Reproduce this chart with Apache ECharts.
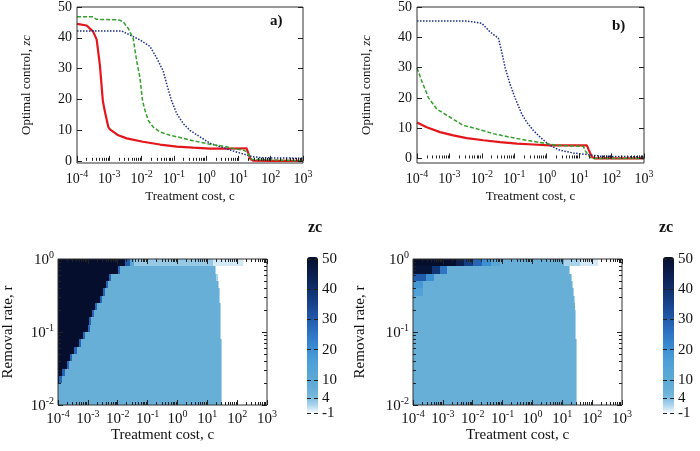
<!DOCTYPE html>
<html><head><meta charset="utf-8">
<script src="https://cdn.jsdelivr.net/npm/echarts@6/dist/echarts.min.js"></script>
<style>html,body{margin:0;padding:0;background:#fff}#c{width:700px;height:451px}</style>
</head><body><div id="c"></div>
<script>
// ---------- DATA (x values are log10 of treatment cost) ----------
const aRedLogC = [-4, -3.7, -3.5, -3.39, -3.29, -3.2, -3.13, -3.03, -2.98, -2.72, -2.46, -1.96, -1.43, -0.91, -0.4, 0.12, 0.7, 1.25, 1.3, 1.37, 1.45, 2, 3];
const aRedZc   = [44.5, 44, 42, 39.4, 31, 19.5, 15.7, 11, 10.2, 8.3, 7.3, 6.2, 5.3, 4.6, 4.3, 4.0, 4.0, 4.1, 4.1, 0.6, 0.1, 0, 0];
const aGreenLogC = [-4, -3.5, -3.4, -2.7, -2.57, -2.41, -2.26, -2.15, -2.05, -1.97, -1.89, -1.79, -1.64, -1.43, -1.12, -0.81, -0.4, 0.12, 0.63, 0.84, 1.15, 1.25, 1.35, 1.41, 1.45, 3];
const aGreenZc   = [46.8, 46.8, 46, 45.8, 45.2, 43, 39.8, 32.4, 27, 19.5, 16.3, 13.1, 11, 9.4, 8.3, 7.6, 6.5, 5.4, 4.6, 4.0, 3.5, 3.0, 1.5, 0.5, 0, 0];
const aBlueLogC = [-4, -2.62, -2.36, -2.05, -1.74, -1.53, -1.33, -1.22, -1.07, -0.91, -0.71, -0.5, -0.19, 0.12, 0.43, 0.84, 1.25, 1.41, 1.7, 3];
const aBlueZc   = [42.2, 42.2, 40.9, 39.3, 37.2, 33.4, 29.2, 24.9, 19.5, 15.3, 12.1, 9.9, 7.8, 5.7, 4.6, 3.2, 1.9, 1.4, 1.0, 0.85];

const bRedLogC = [-4, -3.7, -3.29, -2.88, -2.47, -1.95, -1.44, -0.92, -0.41, 0.1, 1.24, 1.29, 1.39, 1.5, 3];
const bRedZc   = [11.9, 10.3, 8.7, 7.6, 6.7, 6.0, 5.4, 4.9, 4.6, 4.3, 4.3, 3, 0.5, 0, 0];
const bGreenLogC = [-4, -3.85, -3.65, -3.39, -2.98, -2.57, -2.16, -1.65, -1.13, -0.61, -0.1, 0.31, 1.13, 1.19, 1.34, 1.45, 3];
const bGreenZc   = [29.9, 25.5, 20.1, 16.3, 13.6, 10.9, 9.8, 8.2, 7.0, 6.0, 5.1, 4.3, 4.0, 2.5, 0.3, 0, 0];
const bBlueLogC = [-4, -2.47, -2.0, -1.75, -1.49, -1.39, -1.28, -1.13, -0.98, -0.77, -0.61, -0.41, -0.2, 0.1, 0.41, 0.82, 1.24, 1.65, 3];
const bBlueZc   = [45.4, 45.4, 44.6, 41.8, 39.7, 35.3, 29.9, 24.5, 20.1, 14.7, 11.9, 9.2, 7.0, 4.3, 2.7, 1.8, 1.3, 0.75, 0.5];

// heatmap rows: log10 r edges (top to bottom)
const rowEdgesLogR = [0, -0.1, -0.2, -0.3, -0.4, -0.5, -0.6, -0.7, -0.8, -0.9, -1.0, -1.1, -1.2, -1.3, -1.4, -1.5, -1.6, -1.7, -1.8, -1.9, -2.0];
// per row: runs of [log10 c start, log10 c end, zc]
const heatC = [
  [[-4,-1.75,50],[-1.75,-1.6,30],[-1.6,-1.45,12],[-1.45,1.2,3],[1.2,2.2,0.5],[2.2,3,-1]],
  [[-4,-2.0,50],[-2.0,-1.93,28],[-1.93,1.25,7],[1.25,1.3,2],[1.3,3,-1]],
  [[-4,-2.3,50],[-2.3,-2.23,28],[-2.23,1.3,7],[1.3,1.35,2],[1.35,3,-1]],
  [[-4,-2.4,50],[-2.4,-2.33,28],[-2.33,1.35,7],[1.35,1.38,2],[1.38,3,-1]],
  [[-4,-2.5,50],[-2.5,-2.43,28],[-2.43,1.38,7],[1.38,1.41,2],[1.41,3,-1]],
  [[-4,-2.6,50],[-2.6,-2.53,28],[-2.53,1.4,7],[1.4,1.43,2],[1.43,3,-1]],
  [[-4,-2.75,50],[-2.75,-2.68,28],[-2.68,1.42,7],[1.42,1.45,2],[1.45,3,-1]],
  [[-4,-2.85,50],[-2.85,-2.78,28],[-2.78,1.43,7],[1.43,1.46,2],[1.46,3,-1]],
  [[-4,-2.95,50],[-2.95,-2.88,28],[-2.88,1.43,7],[1.43,1.46,2],[1.46,3,-1]],
  [[-4,-3.0,50],[-3.0,-2.93,28],[-2.93,1.44,7],[1.44,1.47,2],[1.47,3,-1]],
  [[-4,-3.15,50],[-3.15,-3.08,28],[-3.08,1.44,7],[1.44,1.47,2],[1.47,3,-1]],
  [[-4,-3.3,50],[-3.3,-3.23,28],[-3.23,1.45,7],[1.45,1.48,2],[1.48,3,-1]],
  [[-4,-3.45,50],[-3.45,-3.38,28],[-3.38,1.45,7],[1.45,1.48,2],[1.48,3,-1]],
  [[-4,-3.6,50],[-3.6,-3.53,28],[-3.53,1.45,7],[1.45,1.48,2],[1.48,3,-1]],
  [[-4,-3.7,50],[-3.7,-3.63,28],[-3.63,1.45,7],[1.45,1.48,2],[1.48,3,-1]],
  [[-4,-3.85,50],[-3.85,-3.78,28],[-3.78,1.45,7],[1.45,1.48,2],[1.48,3,-1]],
  [[-4,-3.95,50],[-3.95,-3.88,28],[-3.88,1.45,7],[1.45,1.48,2],[1.48,3,-1]],
  [[-4,1.45,7],[1.45,1.48,2],[1.48,3,-1]],
  [[-4,1.45,7],[1.45,1.48,2],[1.48,3,-1]],
  [[-4,1.45,7],[1.45,1.48,2],[1.48,3,-1]]
];
const heatD = [
  [[-4,-2.55,50],[-2.55,-2.3,44],[-2.3,-2.0,36],[-2.0,-1.7,28],[-1.7,-1.4,20],[-1.4,-1.1,12],[-1.1,1.05,7],[1.05,1.6,2],[1.6,2.2,0.5],[2.2,3,-1]],
  [[-4,-3.35,48],[-3.35,-3.1,38],[-3.1,-2.85,25],[-2.85,1.22,7],[1.22,1.26,2],[1.26,3,-1]],
  [[-4,-3.55,30],[-3.55,-3.3,20],[-3.3,1.28,7],[1.28,1.32,2],[1.32,3,-1]],
  [[-4,-3.65,18],[-3.65,1.32,7],[1.32,1.36,2],[1.36,3,-1]],
  [[-4,-3.65,15],[-3.65,1.36,7],[1.36,1.39,2],[1.39,3,-1]],
  [[-4,1.39,7],[1.39,1.42,2],[1.42,3,-1]],
  [[-4,1.41,7],[1.41,1.44,2],[1.44,3,-1]],
  [[-4,1.42,7],[1.42,1.45,2],[1.45,3,-1]],
  [[-4,1.43,7],[1.43,1.46,2],[1.46,3,-1]],
  [[-4,1.44,7],[1.44,1.47,2],[1.47,3,-1]],
  [[-4,1.44,7],[1.44,1.47,2],[1.47,3,-1]],
  [[-4,1.45,7],[1.45,1.48,2],[1.48,3,-1]],
  [[-4,1.45,7],[1.45,1.48,2],[1.48,3,-1]],
  [[-4,1.45,7],[1.45,1.48,2],[1.48,3,-1]],
  [[-4,1.45,7],[1.45,1.48,2],[1.48,3,-1]],
  [[-4,1.45,7],[1.45,1.48,2],[1.48,3,-1]],
  [[-4,1.45,7],[1.45,1.48,2],[1.48,3,-1]],
  [[-4,1.45,7],[1.45,1.48,2],[1.48,3,-1]],
  [[-4,1.45,7],[1.45,1.48,2],[1.48,3,-1]],
  [[-4,1.45,7],[1.45,1.48,2],[1.48,3,-1]]
];
const colorbarTicks = [-1, 4, 10, 20, 30, 40, 50];
const zcTicks = [0, 10, 20, 30, 40, 50];
const costExponents = [-4, -3, -2, -1, 0, 1, 2, 3];
const rateExponents = [-2, -1, 0];
const cmap = ['#ffffff','#a9d3ec','#74b6dc','#62acd6','#5aa8d6','#52a3d7','#4a9cd6','#3d8fd3','#3380cb','#2b6fbf','#2460b0','#1d509e','#17428a','#123576','#0e2a62','#0b2050','#08173e','#050e2c'];

// ---------- BUILD ----------
const FONT = 'Liberation Serif';
const P = v => Math.pow(10, v);
const pairs = (xs, ys) => xs.map((x, i) => [P(x), ys[i]]);
function heatData(rows) {
  const out = [];
  rows.forEach((runs, i) => {
    runs.forEach(r => out.push([P(r[0]), P(r[1]), P(rowEdgesLogR[i + 1]), P(rowEdgesLogR[i]), r[2]]));
  });
  return out;
}
function minorVals(e0, e1) {
  const v = [];
  for (let e = e0; e < e1; e++) for (let k = 2; k <= 9; k++) v.push(k * P(e));
  return v;
}
const supFmt = v => { const e = Math.round(Math.log10(v)); return '{b|10}{s|' + e + '}'; };
function supRich(bs, ss) {
  return { b: { fontFamily: FONT, fontSize: bs, lineHeight: bs + 3, verticalAlign: 'bottom', color: '#111' },
           s: { fontFamily: FONT, fontSize: ss, lineHeight: ss, verticalAlign: 'top', color: '#111' } };
}
const nameRich = fs => ({ i: { fontFamily: FONT, fontSize: fs, fontStyle: 'italic', color: '#111' } });
function logAxis(grid, min, max, pos, opt) {
  opt = opt || {};
  const ax = {
    type: 'log', logBase: 10, gridIndex: grid, min: min, max: max, position: pos, z: 10,
    axisLine: { show: false }, splitLine: { show: false },
    axisTick: { show: true, inside: true, length: opt.minor ? 3 : 5, lineStyle: { color: '#222', width: 1 },
                customValues: opt.values },
    axisLabel: { show: !!opt.labels, customValues: opt.values, formatter: supFmt, rich: supRich(opt.bs || 14, opt.ss || 10), margin: opt.margin || 6 }
  };
  if (opt.name) Object.assign(ax, { name: opt.name, nameLocation: 'middle', nameGap: opt.nameGap,
      nameTextStyle: { fontFamily: FONT, fontSize: opt.nameSize || 13, color: '#111' } });
  return ax;
}
function valAxis(grid, min, max, pos, opt) {
  opt = opt || {};
  const ax = {
    type: 'value', gridIndex: grid, min: min, max: max, position: pos, z: 10,
    axisLine: { show: false }, splitLine: { show: false },
    axisTick: { show: !!opt.ticks, inside: true, length: opt.tickLen || 5, lineStyle: { color: '#222' }, customValues: opt.values },
    axisLabel: { show: !!opt.labels, customValues: opt.values, fontFamily: FONT, fontSize: opt.fs || 14, color: '#111', margin: opt.margin || 5 }
  };
  if (opt.name) Object.assign(ax, { name: opt.name, nameLocation: 'middle', nameGap: opt.nameGap,
      nameTextStyle: { fontFamily: FONT, fontSize: 13, color: '#111', rich: nameRich(13) } });
  return ax;
}
const majC = costExponents.map(P), minC = minorVals(-4, 3);
const majR = rateExponents.map(P), minR = minorVals(-2, 0);

const frame = { show: true, borderColor: '#333', borderWidth: 1, backgroundColor: 'transparent', z: 8 };
const grids = [
  Object.assign({ left: 77, top: 5, width: 226, height: 158 }, frame),
  Object.assign({ left: 417, top: 5, width: 227, height: 158 }, frame),
  Object.assign({ left: 57, top: 259, width: 210, height: 146 }, frame),
  Object.assign({ left: 413, top: 259, width: 209, height: 146 }, frame),
  { left: 307, top: 259, width: 11, height: 154 },
  { left: 663, top: 259, width: 11, height: 154 }
];
const xAxes = [
  logAxis(0, 1e-4, 1e3, 'bottom', { values: majC, labels: true, name: 'Treatment cost, c', nameGap: 27, nameSize: 13 }),
  logAxis(0, 1e-4, 1e3, 'bottom', { values: minC, minor: true }),
  logAxis(1, 1e-4, 1e3, 'bottom', { values: majC, labels: true, name: 'Treatment cost, c', nameGap: 27, nameSize: 13 }),
  logAxis(1, 1e-4, 1e3, 'bottom', { values: minC, minor: true }),
  logAxis(2, 1e-4, 1e3, 'bottom', { values: majC, labels: true, name: 'Treatment cost, c', nameGap: 23, nameSize: 15, bs: 15, ss: 10, margin: 4 }),
  logAxis(2, 1e-4, 1e3, 'bottom', { values: minC, minor: true }),
  logAxis(2, 1e-4, 1e3, 'top', { values: majC }),
  logAxis(2, 1e-4, 1e3, 'top', { values: minC, minor: true }),
  logAxis(3, 1e-4, 1e3, 'bottom', { values: majC, labels: true, name: 'Treatment cost, c', nameGap: 23, nameSize: 15, bs: 15, ss: 10, margin: 4 }),
  logAxis(3, 1e-4, 1e3, 'bottom', { values: minC, minor: true }),
  logAxis(3, 1e-4, 1e3, 'top', { values: majC }),
  logAxis(3, 1e-4, 1e3, 'top', { values: minC, minor: true }),
  { type: 'value', gridIndex: 4, show: false, min: 0, max: 1 },
  { type: 'value', gridIndex: 5, show: false, min: 0, max: 1 }
];
const yAxes = [
  valAxis(0, -0.7, 50, 'left', { values: zcTicks, ticks: true, labels: true, name: 'Optimal control, {i|zc}', nameGap: 44 }),
  valAxis(0, -0.7, 50, 'right', { values: zcTicks, ticks: true }),
  valAxis(1, -1.5, 50, 'left', { values: zcTicks, ticks: true, labels: true, name: 'Optimal control, {i|zc}', nameGap: 44 }),
  valAxis(1, -1.5, 50, 'right', { values: zcTicks, ticks: true }),
  logAxis(2, 1e-2, 1, 'left', { values: majR, labels: true, name: 'Removal rate, r', nameGap: 42, nameSize: 15, bs: 15, ss: 10, margin: 4 }),
  logAxis(2, 1e-2, 1, 'left', { values: minR, minor: true }),
  logAxis(2, 1e-2, 1, 'right', { values: majR }),
  logAxis(2, 1e-2, 1, 'right', { values: minR, minor: true }),
  logAxis(3, 1e-2, 1, 'left', { values: majR, labels: true, name: 'Removal rate, r', nameGap: 45, nameSize: 15, bs: 15, ss: 10, margin: 4 }),
  logAxis(3, 1e-2, 1, 'left', { values: minR, minor: true }),
  logAxis(3, 1e-2, 1, 'right', { values: majR }),
  logAxis(3, 1e-2, 1, 'right', { values: minR, minor: true }),
  valAxis(4, -1, 50, 'left', { values: colorbarTicks, ticks: true, tickLen: 4 }),
  valAxis(4, -1, 50, 'right', { values: colorbarTicks, ticks: true, tickLen: 4, labels: true, fs: 15, margin: 4 }),
  valAxis(5, -1, 50, 'left', { values: colorbarTicks, ticks: true, tickLen: 4 }),
  valAxis(5, -1, 50, 'right', { values: colorbarTicks, ticks: true, tickLen: 4, labels: true, fs: 15, margin: 4 })
];
function line(xi, yi, data, color, width, type) {
  return { type: 'line', xAxisIndex: xi, yAxisIndex: yi, data: data, showSymbol: false, symbol: 'none', silent: true,
           lineStyle: { color: color, width: width, type: type }, z: type === 'solid' ? 3 : 4, animation: false };
}
function heatSeries(xi, yi, rows) {
  return {
    type: 'custom', xAxisIndex: xi, yAxisIndex: yi, data: heatData(rows), clip: true, silent: true, animation: false,
    encode: { x: [0, 1], y: [2, 3] },
    renderItem: function (params, api) {
      const p0 = api.coord([api.value(0), api.value(2)]);
      const p1 = api.coord([api.value(1), api.value(3)]);
      const x0 = Math.round(Math.min(p0[0], p1[0])), x1 = Math.round(Math.max(p0[0], p1[0]));
      const y0 = Math.round(Math.min(p0[1], p1[1])), y1 = Math.round(Math.max(p0[1], p1[1]));
      return { type: 'rect', shape: { x: x0, y: y0, width: x1 - x0, height: y1 - y0 },
               style: { fill: api.visual('color') } };
    }
  };
}
const RED = '#e3161c', GREEN = '#33a02c', BLUE = '#1a2c8c';
const series = [
  line(0, 0, pairs(aBlueLogC, aBlueZc), BLUE, 1.5, [1.5, 1.5]),
  line(0, 0, pairs(aGreenLogC, aGreenZc), GREEN, 1.5, [4, 2]),
  line(0, 0, pairs(aRedLogC, aRedZc), RED, 2.2, 'solid'),
  line(2, 2, pairs(bBlueLogC, bBlueZc), BLUE, 1.5, [1.5, 1.5]),
  line(2, 2, pairs(bGreenLogC, bGreenZc), GREEN, 1.5, [4, 2]),
  line(2, 2, pairs(bRedLogC, bRedZc), RED, 2.2, 'solid'),
  heatSeries(4, 4, heatC),
  heatSeries(8, 8, heatD)
];
function vmap(idx, left) {
  return { type: 'continuous', seriesIndex: idx, dimension: 4, min: -1, max: 50, calculable: false, hoverLink: false,
           left: left, top: 257, itemWidth: 11, itemHeight: 157, padding: 0, text: null, showLabel: false, z: 2,
           inRange: { color: cmap } };
}
const txt = (t, x, y, fs) => ({ type: 'text', left: x, top: y, silent: true,
  style: { text: t, fontFamily: FONT, fontSize: fs, fontWeight: 'bold', fill: '#111' } });

const chart = echarts.init(document.getElementById('c'), null, { renderer: 'canvas' });
chart.setOption({
  animation: false,
  backgroundColor: '#fff',
  grid: grids, xAxis: xAxes, yAxis: yAxes, series: series,
  visualMap: [vmap(6, 307), vmap(7, 663)],
  graphic: [txt('a)', 270, 14, 15), txt('b)', 612, 19, 15), txt('c)', 233, 282, 16), txt('d)', 590, 287, 16),
            txt('zc', 308, 220, 16), txt('zc', 659, 220, 16)]
});
</script></body></html>
